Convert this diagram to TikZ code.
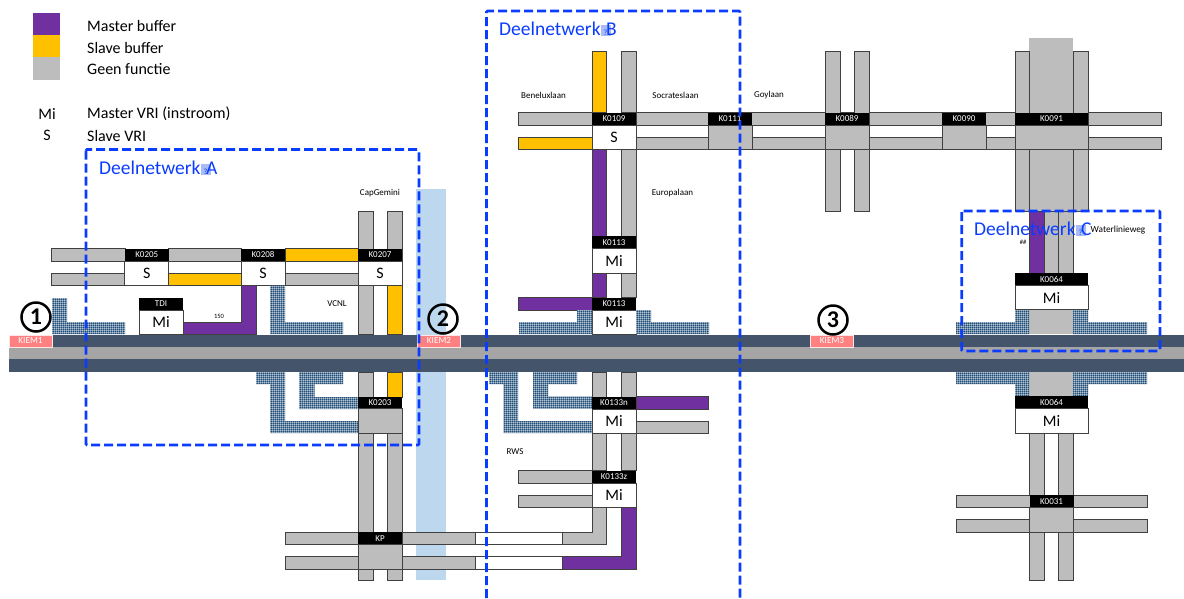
\documentclass[tikz,border=0pt]{standalone}
\usepackage{fontspec}
\setmainfont{Carlito}
\usetikzlibrary{patterns}
\definecolor{masterpurple}{HTML}{7030A0}
\definecolor{slaveorange}{HTML}{FFC000}
\definecolor{roadgrey}{HTML}{BDBDBD}
\definecolor{roadline}{HTML}{404040}
\definecolor{laneblue}{HTML}{44546A}
\definecolor{midgrey}{HTML}{A5A5A5}
\definecolor{kiemred}{HTML}{FF8080}
\definecolor{bandblue}{HTML}{BDD7EE}
\definecolor{netblue}{HTML}{0A3CFF}
\definecolor{hatchblue}{HTML}{1F4E79}
\definecolor{tofublue}{HTML}{A9BCF5}
\pgfdeclarepatternformonly{gridtile}{\pgfqpoint{0pt}{0pt}}{\pgfqpoint{2.4pt}{2.4pt}}{\pgfqpoint{2.4pt}{2.4pt}}{\pgfpathrectangle{\pgfqpoint{0pt}{0pt}}{\pgfqpoint{2.4pt}{0.5pt}}\pgfpathrectangle{\pgfqpoint{0pt}{0pt}}{\pgfqpoint{0.5pt}{2.4pt}}\pgfusepath{fill}}
\newcommand{\tofu}{{\fboxsep=0pt\colorbox{tofublue}{\makebox[10pt]{\rule[-1pt]{0pt}{11pt}\fontsize{8}{8}\selectfont ?}}}\hspace{-4.5pt}}
\tikzset{
    road/.style={fill=roadgrey,draw=roadline,line width=0.7pt},
    masterroad/.style={road,fill=masterpurple},
    slaveroad/.style={road,fill=slaveorange},
    hatchzone/.style={fill=hatchblue,postaction={pattern=gridtile,pattern color=white}},
    header/.style={fill=black,text=white,inner sep=0pt,minimum width=44pt,minimum height=12.5pt,font=\fontsize{9}{9}\selectfont},
    vribox/.style={fill=white,draw=roadline,line width=0.7pt,inner sep=0pt,minimum width=44pt,minimum height=24.5pt,font=\fontsize{16}{16}\selectfont},
    greybox/.style={vribox,fill=roadgrey},
    kiem/.style={fill=kiemred,draw=white!80!kiemred,line width=0.5pt,text=white,inner sep=0pt,minimum width=43pt,minimum height=12.5pt,font=\fontsize{9.2}{9.2}\selectfont},
    kiemnr/.style={circle,draw=black,line width=2.5pt,fill=none,inner sep=0pt,minimum size=29pt,font=\fontsize{24}{24}\selectfont\bfseries},
    legendtext/.style={anchor=west,inner sep=0pt,font=\fontsize{16}{16}\selectfont},
    streetname/.style={inner sep=0pt,font=\fontsize{9}{9}\selectfont},
    netname/.style={anchor=west,inner sep=0pt,text=netblue,font=\fontsize{19.5}{19.5}\selectfont},
    netframe/.style={draw=netblue,line width=2.8pt,dash pattern=on 9pt off 4pt}
}
\begin{document}
\begin{tikzpicture}[x=1pt,y=-1pt]
    \useasboundingbox (0,0) rectangle (1184,598);
    % legenda
    \fill [masterpurple] (33,13) rectangle (59.5,35);
    \fill [slaveorange] (33,35) rectangle (59.5,57);
    \fill [roadgrey] (33,57) rectangle (59.5,80);
    \node (lgmaster) [legendtext] at (87,25.5) {Master buffer};
    \node (lgslave) [legendtext] at (87,47.5) {Slave buffer};
    \node (lggeen) [legendtext] at (87,69.5) {Geen functie};
    \node (lgmi) [legendtext,anchor=center] at (47,113.5) {Mi};
    \node (lgs) [legendtext,anchor=center] at (47,135.5) {S};
    \node (lgmvri) [legendtext] at (87,113.5) {Master VRI (instroom)};
    \node (lgsvri) [legendtext] at (87,135.5) {Slave VRI};
    \fill [bandblue] (416,189) rectangle (446,580);
    % west
    \draw [road] (358,211) rectangle (373,334);
    \draw [road] (387,211) rectangle (402,285);
    \draw [slaveroad] (387,285) rectangle (402,334);
    \draw [road] (51,248.5) rectangle (125,261);
    \draw [road] (168.5,248.5) rectangle (241,261);
    \draw [slaveroad] (285,248.5) rectangle (358,261);
    \draw [road] (51,273) rectangle (125,285);
    \draw [slaveroad] (168.5,273) rectangle (241,285);
    \draw [road] (285,273) rectangle (358,285);
    \node (k0205) [header] at (146.75,254.75) {K0205};
    \node (k0205vri) [vribox] at (146.75,273.25) {S};
    \node (k0208) [header] at (263,254.75) {K0208};
    \node (k0208vri) [vribox] at (263,273.25) {S};
    \node (k0207) [header] at (380,254.75) {K0207};
    \node (k0207vri) [vribox] at (380,273.25) {S};
    \draw [masterroad] (183,322) -- (241,322) -- (241,285.5) -- (256,285.5) -- (256,334) -- (183,334) -- cycle;
    \node (tdi) [header] at (161,303.75) {TDI};
    \node (tdivri) [vribox] at (161,322.25) {Mi};
    \fill [hatchzone] (52,298) -- (67,298) -- (67,322) -- (125,322) -- (125,334) -- (52,334) -- cycle;
    \fill [hatchzone] (270,285.5) -- (285,285.5) -- (285,322) -- (343,322) -- (343,334) -- (270,334) -- cycle;
    \fill [hatchzone] (256,372) -- (285,372) -- (285,421) -- (358,421) -- (358,433) -- (270,433) -- (270,384) -- (256,384) -- cycle;
    \fill [hatchzone] (299,372) -- (343,372) -- (343,384) -- (314.5,384) -- (314.5,397) -- (358,397) -- (358,409) -- (299,409) -- cycle;
    \draw [road] (358,372) rectangle (373,580);
    \draw [road] (387,433) rectangle (402,580);
    \draw [road] (358,372) rectangle (373,397);
    \draw [slaveroad] (387,372) rectangle (402,397);
    \node (k0203) [header] at (380,403) {K0203};
    \node (k0203vri) [greybox] at (380,421) {};
    \draw [road] (285,532) rectangle (358,544.5);
    \draw [road] (285,556.5) rectangle (358,569);
    \draw [road] (402,532) rectangle (475,544.5);
    \draw [road] (402,556.5) rectangle (475,569);
    \draw [roadline,line width=0.7pt] (475,532) -- (592,532) (475,544.5) -- (562,544.5);
    \draw [roadline,line width=0.7pt] (475,556.5) -- (621,556.5) (475,569) -- (562,569);
    \draw [road] (562,544.5) -- (562,532) -- (592,532) -- (592,507.5) -- (606.7,507.5) -- (606.7,544.5) -- cycle;
    \draw [masterroad] (562,569) -- (562,556.5) -- (621,556.5) -- (621,507.5) -- (636,507.5) -- (636,569) -- cycle;
    \node (kp) [header] at (380,538.25) {KP};
    \node (kpvri) [greybox] at (380,556.75) {};
    % midden
    \draw [slaveroad] (592,51) rectangle (606.7,112.5);
    \draw [road] (621,51) rectangle (636,112.5);
    \draw [masterroad] (592,149.5) rectangle (606.7,297.5);
    \draw [road] (621,149.5) rectangle (636,297.5);
    \draw [road] (518.5,112.5) rectangle (592,125);
    \draw [slaveroad] (518.5,137) rectangle (592,149.5);
    \draw [road] (636,112.5) rectangle (1161,125);
    \draw [road] (636,137) rectangle (1161,149.5);
    \node (k0109) [header] at (614,118.75) {K0109};
    \node (k0109vri) [vribox] at (614,137.25) {S};
    \node (k0113a) [header] at (614,242.25) {K0113};
    \node (k0113avri) [vribox] at (614,260.75) {Mi};
    \draw [masterroad] (518.5,297.5) rectangle (592,310);
    \node (k0113b) [header] at (614,303.75) {K0113};
    \node (k0113bvri) [vribox] at (614,322.25) {Mi};
    \fill [hatchzone] (577,310) -- (592,310) -- (592,334) -- (519,334) -- (519,322) -- (577,322) -- cycle;
    \fill [hatchzone] (636,310) -- (651,310) -- (651,322) -- (709,322) -- (709,334) -- (636,334) -- cycle;
    \fill [hatchzone] (489,372) -- (518,372) -- (518,421) -- (592,421) -- (592,433) -- (503.5,433) -- (503.5,384) -- (489,384) -- cycle;
    \fill [hatchzone] (533,372) -- (577,372) -- (577,384) -- (548,384) -- (548,396.5) -- (592,396.5) -- (592,408.5) -- (533,408.5) -- cycle;
    \draw [road] (592,372) rectangle (606.7,470.5);
    \draw [road] (621,372) rectangle (636,470.5);
    \draw [masterroad] (636,396.5) rectangle (708.7,409);
    \draw [road] (636,421) rectangle (708.7,433);
    \node (k0133n) [header] at (614,402.75) {K0133n};
    \node (k0133nvri) [vribox] at (614,421.25) {Mi};
    \draw [road] (518.5,470.5) rectangle (592,483);
    \draw [road] (518.5,495) rectangle (592,507.5);
    \node (k0133z) [header] at (614,476.75) {K0133z};
    \node (k0133zvri) [vribox] at (614,495.25) {Mi};
    \node (k0111) [header] at (730,118.75) {K0111};
    \node (k0111vri) [greybox] at (730,137.25) {};
    % oost
    \draw [road] (825,51) rectangle (840,211.5);
    \draw [road] (854,51) rectangle (869,211.5);
    \node (k0089) [header] at (847,118.75) {K0089};
    \node (k0089vri) [greybox] at (847,137.25) {};
    \node (k0090) [header] at (964,118.75) {K0090};
    \node (k0090vri) [greybox] at (964,137.25) {};
    \fill [roadgrey] (1029,38) rectangle (1073,273);
    \draw [road] (1015,51) rectangle (1029.5,211);
    \draw [road] (1073,51) rectangle (1088,211);
    \node (k0091) [header,minimum width=73pt] at (1051.5,118.75) {K0091};
    \node (k0091vri) [greybox,minimum width=73pt] at (1051.5,137.25) {};
    \draw [roadline,line width=0.7pt] (1029.5,149.5) -- (1029.5,211) (1073,149.5) -- (1073,211);
    \draw [masterroad] (1029.5,211) rectangle (1044,273);
    \draw [road] (1044,211) rectangle (1058.7,273);
    \draw [road] (1058.7,211) rectangle (1073,273);
    \node (k0064a) [header,minimum width=73pt] at (1051.5,279) {K0064};
    \node (k0064avri) [vribox,minimum width=73pt] at (1051.5,297.5) {Mi};
    \fill [roadgrey] (1029,310) rectangle (1073,334);
    \fill [hatchzone] (1015,310) -- (1029,310) -- (1029,334) -- (956,334) -- (956,322) -- (1015,322) -- cycle;
    \fill [hatchzone] (1073,310) -- (1088,310) -- (1088,322) -- (1147,322) -- (1147,334) -- (1073,334) -- cycle;
    \fill [roadgrey] (1029,372) rectangle (1073,396);
    \fill [hatchzone] (956,372) -- (1029,372) -- (1029,396) -- (1015,396) -- (1015,384) -- (956,384) -- cycle;
    \fill [hatchzone] (1073,372) -- (1147,372) -- (1147,384) -- (1088,384) -- (1088,396) -- (1073,396) -- cycle;
    \draw [road] (1029.5,433) rectangle (1044,580);
    \draw [road] (1058.7,433) rectangle (1073,580);
    \node (k0064b) [header,minimum width=73pt] at (1051.5,402.5) {K0064};
    \node (k0064bvri) [vribox,minimum width=73pt] at (1051.5,421) {Mi};
    \draw [road] (956,495) rectangle (1147,507.5);
    \draw [road] (956,519.5) rectangle (1147,532);
    \node (k0031) [header] at (1051.5,501.25) {K0031};
    \node (k0031vri) [greybox] at (1051.5,519.75) {};
    % snelweg
    \fill [laneblue] (9,334.5) rectangle (1184,347);
    \fill [midgrey] (9,347) rectangle (1184,359);
    \fill [laneblue] (9,359) rectangle (1184,372);
    \node (kiem1) [kiem] at (30.5,341) {KIEM1};
    \node (kiem2) [kiem] at (439,341) {KIEM2};
    \node (kiem3) [kiem] at (832,341) {KIEM3};
    \node (nr1) [kiemnr] at (36,317) {1};
    \node (nr2) [kiemnr] at (443,319) {2};
    \node (nr3) [kiemnr] at (833,320) {3};
    % namen
    \node (capgemini) [streetname] at (380,193) {CapGemini};
    \node (vcnl) [streetname] at (337,304) {VCNL};
    \node (label150) [streetname,font=\fontsize{6.5}{6.5}\selectfont] at (219,316) {150};
    \node (beneluxlaan) [streetname] at (543.5,95) {Beneluxlaan};
    \node (socrateslaan) [streetname] at (675.5,95) {Socrateslaan};
    \node (goylaan) [streetname] at (769,95) {Goylaan};
    \node (europalaan) [streetname] at (672.5,193) {Europalaan};
    \node (rws) [streetname] at (515,452) {RWS};
    \node (waterlinieweg) [streetname,font=\fontsize{9.3}{9.3}\selectfont] at (1118,230) {Waterlinieweg};
    \node (hashes) [streetname,font=\fontsize{6.5}{6.5}\selectfont] at (1023,242) {\#\#};
    % deelnetwerken
    \draw [netframe,rounded corners=1pt] (86,149.5) rectangle (419,445);
    \draw [netframe,rounded corners=1pt] (486.5,598) -- (486.5,11) -- (740,11) -- (740,598);
    \draw [netframe,rounded corners=1pt] (961.7,211) rectangle (1160,351);
    \node (neta) [netname] at (99,168) {Deelnetwerk\tofu A};
    \node (netb) [netname] at (499,29) {Deelnetwerk\tofu B};
    \node (netc) [netname] at (974,229) {Deelnetwerk\tofu C};
\end{tikzpicture}
\end{document}
